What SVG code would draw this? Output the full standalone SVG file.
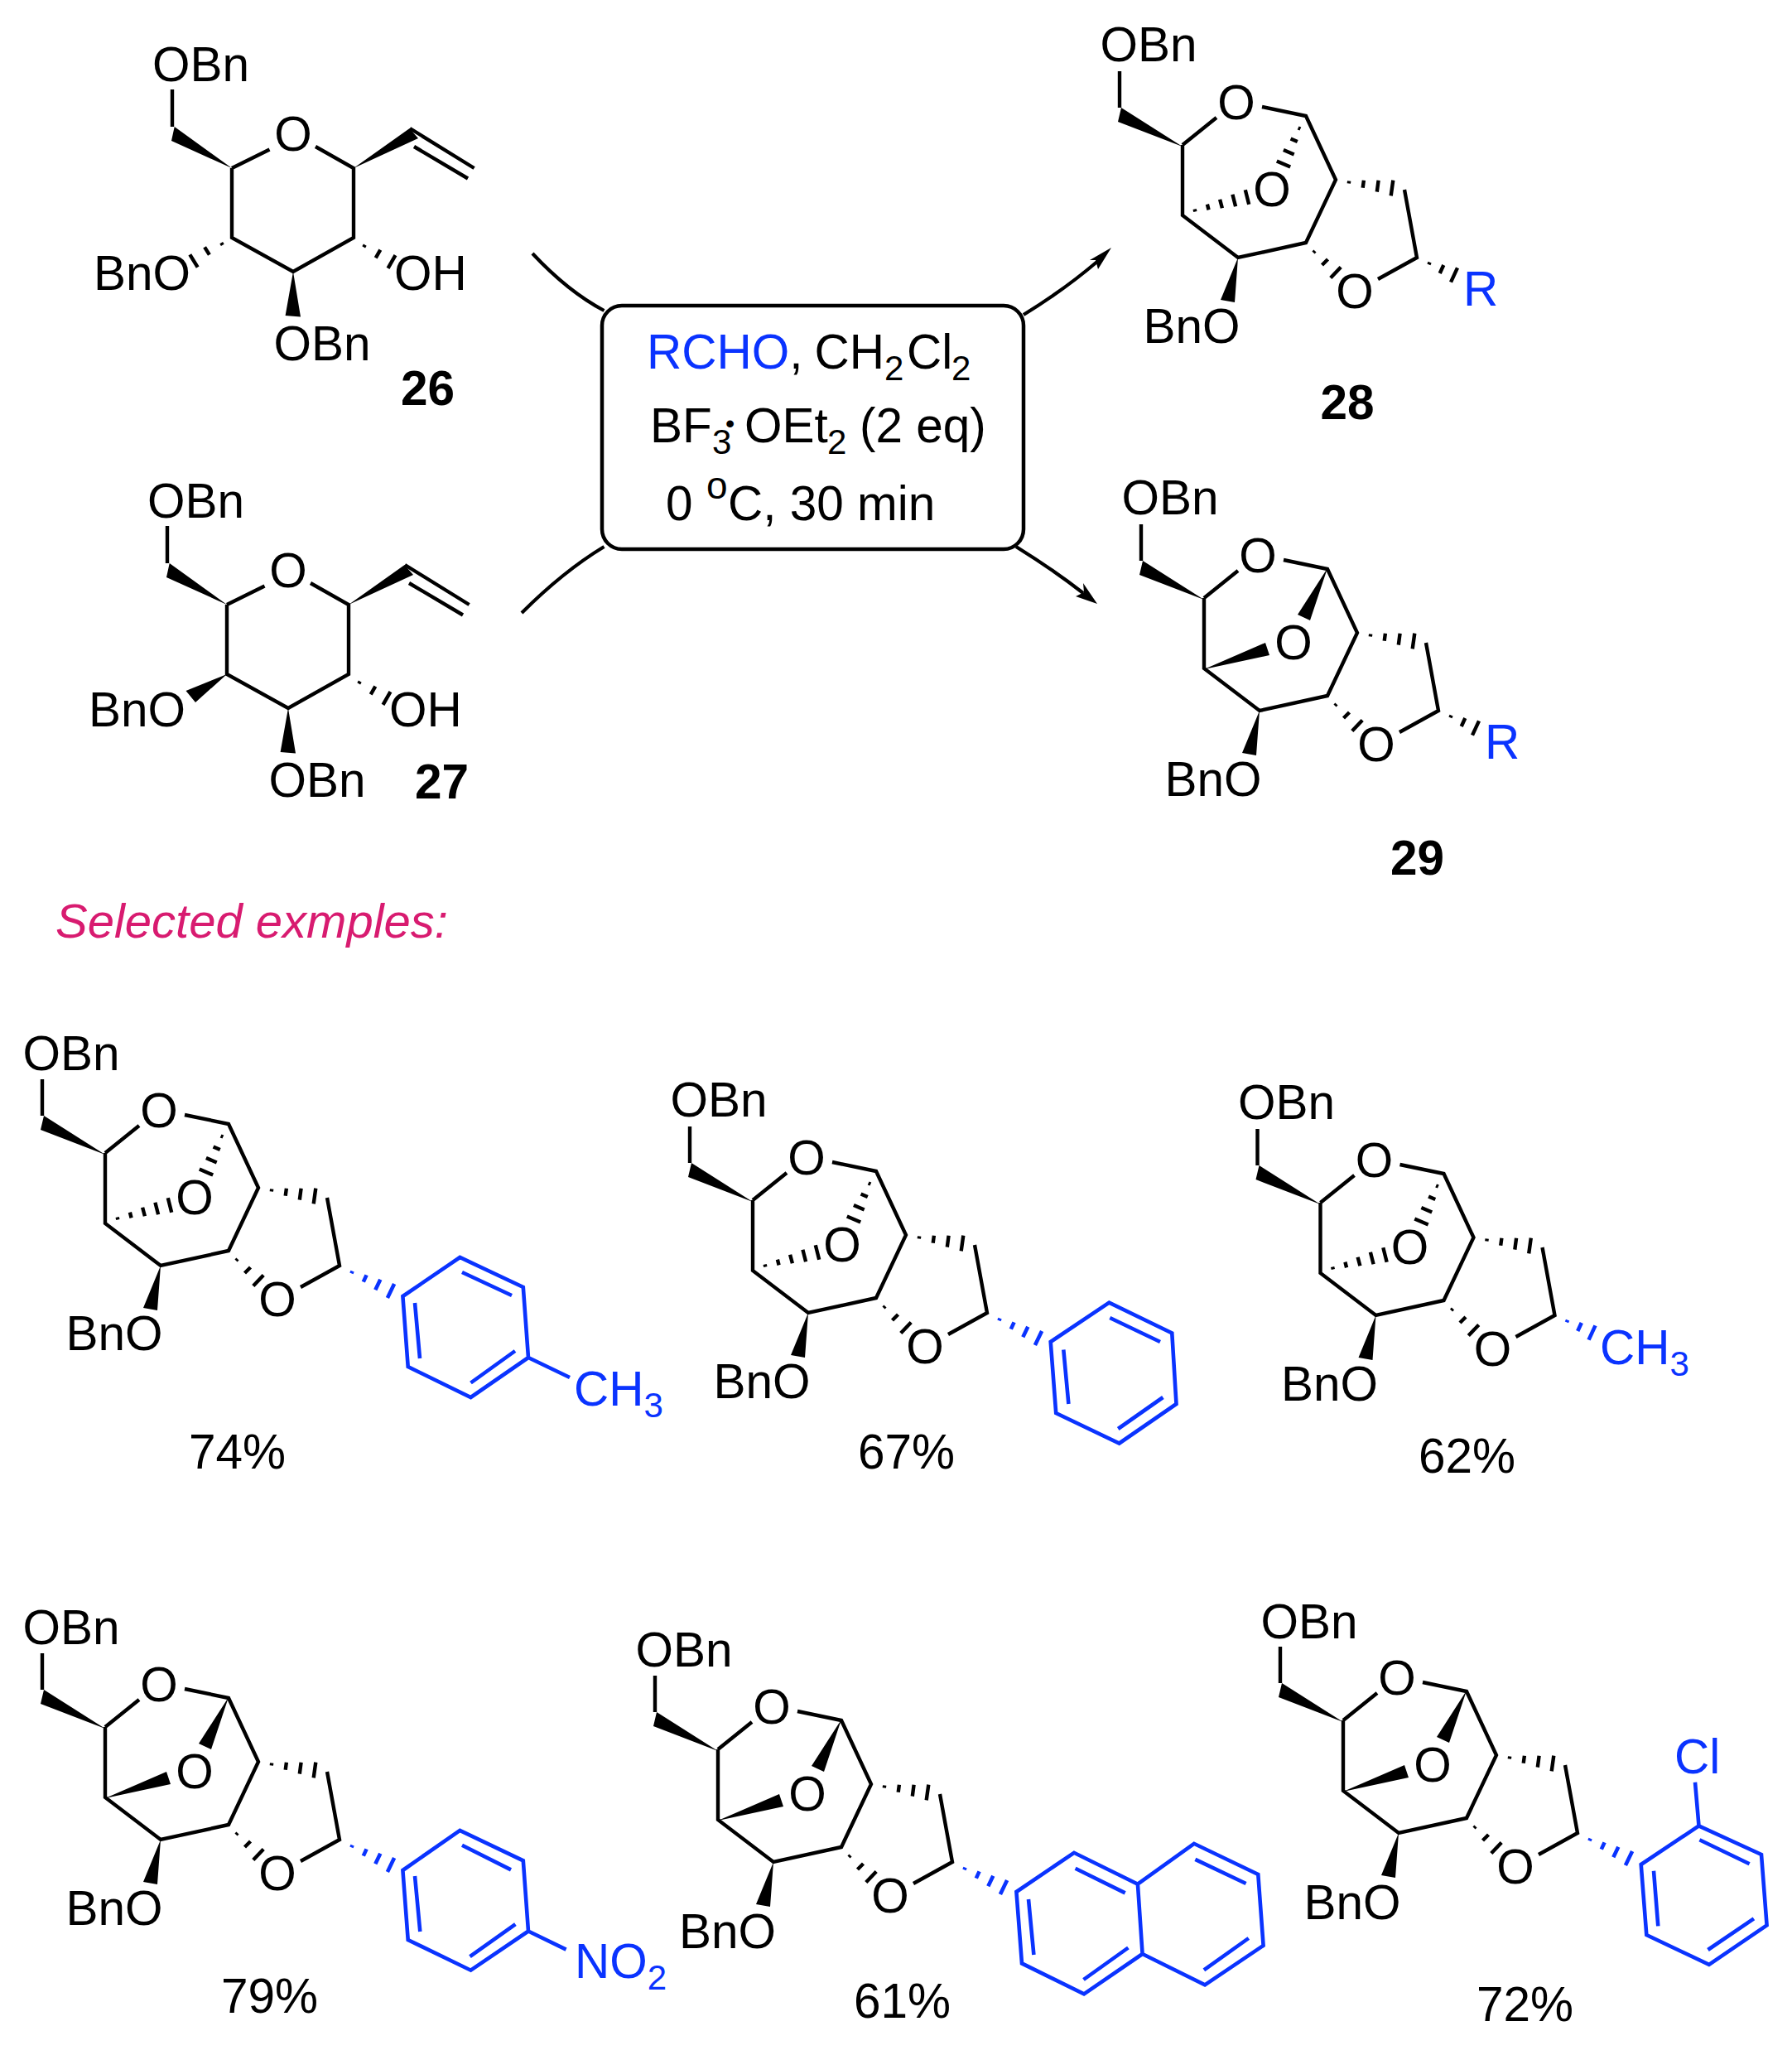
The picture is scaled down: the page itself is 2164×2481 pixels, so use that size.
<svg xmlns="http://www.w3.org/2000/svg" xmlns:xlink="http://www.w3.org/1999/xlink" width="2164" height="2481" viewBox="0 0 2164 2481">
<style>
text{font-family:"Liberation Sans",Arial,sans-serif;font-size:58.5px;fill:#000}
.m{text-anchor:middle}
.b{font-weight:bold}
.sub{font-size:42px}
.blue{fill:#0a33ff}
.pink{fill:#d81b70;font-style:italic;font-size:58px}
.k{fill:none;stroke:#000;stroke-width:4.4}
.h{fill:none;stroke:#000;stroke-width:4.4}
.hb{fill:none;stroke:#0a33ff;stroke-width:4.6}
.ar{fill:none;stroke:#0a33ff;stroke-width:4.6}
.w{fill:#000;stroke:none}
.box{fill:#fff;stroke:#000;stroke-width:4.5}
.conn{fill:none;stroke:#000;stroke-width:4.2}
</style>
<defs>
<g id="core">
<path class="k" d="M-76,-45V-89M0,0L41,-33M96,-46L149,-35L185,42L149,118L67,136L0,85V0M268,54L283,136L236,162"/>
<path class="w" d="M0,2L-74,-45L-78,-28ZM67,136L46,187L63,190Z"/>
<path class="h" d="M201.2,43.5L200.8,46.5M218.9,42.8L217.7,51.8M236.6,42.8L234.8,56.6M254.3,42.6L251.7,61.4M158,130L160,128M168.5,145L175.5,138M178.8,160.5L191.2,147.5"/>
</g>
<path id="bridge-hash" class="h" d="M139.6,-20.6L142.4,-19.4M130.6,-7.5L138.8,-3.9M121.9,5.9L134.7,11.5M113.8,19.4L130.2,26.6M14.6,77.5L15.4,80.5M29.9,71.6L31.6,78.4M45.1,65.7L47.9,76.3M60.4,59.7L64.1,74.3M75.8,54.3L80.2,71.7"/>
<path id="bridge-wedge" class="w" d="M149,-36L113,20L128,27ZM0,86L74,54L79,69Z"/>
<path id="hash3" d="M297.4,144.4L298.6,141.6M310.7,155L315.3,145M324,165.6L332,148.4"/>
<path id="hash4" d="M297.4,145.4L298.6,142.6M311.8,155.6L315.6,147.4M326.3,165.3L332.3,152.7M340.9,175.1L349.1,157.9"/>
<g id="pyran">
<path class="k" d="M-72,-95V-50M0,0L45.5,-22.5M101,-26L147,0V84L74,125L0,84V0M215,-48L292.6,0M220,-26L285,12.5"/>
<path class="w" d="M0,0L-69.3,-50L-73,-33ZM147,0L214.6,-48L225,-36ZM74,125L64.6,178L83,179.6Z"/>
<path class="h" d="M159.2,95.3L160.8,92.7M173.7,108.3L179.3,98.7M188.5,120.8L197.5,105.2"/>
</g>
</defs>

<g id="connectors">
<path class="conn" d="M643,306Q686,352 729.5,375"/>
<path class="conn" d="M630,740Q680,690 729.5,660"/>
<path class="conn" d="M1236,380Q1285,350 1326,315"/>
<path class="conn" d="M1227,660Q1272,688 1308,716"/>
<path class="w" d="M1342,299L1326,325L1323,314L1316,314Z"/>
<path class="w" d="M1325,729L1299,720L1309,715L1308,704Z"/>
</g>

<g id="conditions">
<rect class="box" x="727" y="369" width="509" height="294" rx="24"/>
<text x="781" y="444.5"><tspan class="blue">RCHO</tspan>, <tspan x="983.5">CH</tspan><tspan class="sub" x="1068" dy="14">2</tspan><tspan x="1095" dy="-14">Cl</tspan><tspan class="sub" x="1149" dy="14">2</tspan></text>
<text x="785" y="534">BF<tspan class="sub" x="860" dy="14">3</tspan><tspan style="font-size:32px" x="876" dy="-26">•</tspan><tspan x="899" dy="12">OEt</tspan><tspan class="sub" x="999" dy="14">2</tspan><tspan x="1038" dy="-14">(2 eq)</tspan></text>
<text x="804" y="628">0<tspan class="sub" style="font-size:46px" x="853" dy="-26">o</tspan><tspan x="879" dy="26">C, 30 min</tspan></text>
</g>

<g id="compound-26"><g transform="translate(280,203)">
<use href="#pyran"/>
<path class="h" d="M-12.8,90.2L-11.2,92.8M-32.9,95.3L-27.1,104.7M-50.7,104.3L-41.3,119.7"/>
<text x="-96" y="-105">OBn</text><text class="m" x="74" y="-21.5">O</text><text x="196" y="147">OH</text><text x="-167" y="147">BnO</text><text x="50.5" y="231.5">OBn</text>
</g><text class="b" x="484" y="489">26</text></g>

<g id="compound-27"><g transform="translate(274,730)">
<use href="#pyran"/>
<path class="w" d="M0,84L-49.5,104L-38,118Z"/>
<text x="-96" y="-105">OBn</text><text class="m" x="74" y="-21.5">O</text><text x="196" y="147">OH</text><text x="-167" y="147">BnO</text><text x="50.5" y="231.5">OBn</text>
</g><text class="b" x="501" y="964">27</text></g>

<g id="compound-28"><g transform="translate(1428,175)">
<use href="#core"/><use href="#bridge-hash"/><use class="h" href="#hash3"/>
<text x="-99.5" y="-101">OBn</text><text class="m" x="65" y="-31.5">O</text><text class="m" x="108" y="74">O</text><text class="m" x="208" y="197">O</text><text x="-47.5" y="239">BnO</text><text class="blue" x="339" y="193.5">R</text>
</g><text class="b" x="1594.5" y="506">28</text></g>

<g id="compound-29"><g transform="translate(1454,722)">
<use href="#core"/><use href="#bridge-wedge"/><use class="h" href="#hash3"/>
<text x="-99.5" y="-101">OBn</text><text class="m" x="65" y="-31.5">O</text><text class="m" x="108" y="74">O</text><text class="m" x="208" y="197">O</text><text x="-47.5" y="239">BnO</text><text class="blue" x="339" y="193.5">R</text>
</g><text class="b" x="1679" y="1056">29</text></g>

<text id="selected-examples" class="pink" x="67" y="1131.5">Selected exmples:</text>

<g id="example-74"><g transform="translate(127,1392)">
<use href="#core"/><use href="#bridge-hash"/><use class="hb" href="#hash4"/>
<text x="-99.5" y="-100">OBn</text><text class="m" x="65" y="-31.5">O</text><text class="m" x="108" y="74">O</text><text class="m" x="208" y="197">O</text><text x="-47.5" y="238">BnO</text>
</g>
<path class="ar" d="M486.4,1565L555.4,1518L631.8,1554L638,1639L568.5,1687L492.7,1650ZM501,1573L507,1640M558,1536L618,1564M622,1631L568.5,1669.5M638,1639L688,1663"/>
<text class="blue" x="693" y="1696.5">CH<tspan class="sub" dy="14">3</tspan></text>
<text x="228" y="1773">74%</text></g>

<g id="example-67"><g transform="translate(909,1449)">
<use href="#core"/><use href="#bridge-hash"/><use class="hb" href="#hash4"/>
<text x="-99.5" y="-101">OBn</text><text class="m" x="65" y="-31.5">O</text><text class="m" x="108" y="74">O</text><text class="m" x="208" y="197">O</text><text x="-47.5" y="239">BnO</text>
</g>
<path class="ar" d="M1268.7,1620L1339.4,1572.7L1415.3,1609.5L1420.5,1695L1351.6,1742.5L1275.2,1706ZM1284.3,1629.5L1290.4,1695M1340.3,1591L1401,1620M1404.4,1687L1350.2,1725"/>
<text x="1036" y="1773">67%</text></g>

<g id="example-62"><g transform="translate(1594.5,1452)">
<use href="#core"/><use href="#bridge-hash"/><use class="hb" href="#hash3"/>
<text x="-99.5" y="-101">OBn</text><text class="m" x="65" y="-31.5">O</text><text class="m" x="108" y="74">O</text><text class="m" x="208" y="197">O</text><text x="-47.5" y="239">BnO</text>
</g>
<text class="blue" x="1932" y="1646.7">CH<tspan class="sub" dy="14">3</tspan></text>
<text x="1713" y="1777.6">62%</text></g>

<g id="example-79"><g transform="translate(127,2085)">
<use href="#core"/><use href="#bridge-wedge"/><use class="hb" href="#hash4"/>
<text x="-99.5" y="-100.5">OBn</text><text class="m" x="65" y="-31.5">O</text><text class="m" x="108" y="74">O</text><text class="m" x="208" y="197">O</text><text x="-47.5" y="239">BnO</text>
</g>
<path class="ar" d="M486.4,2258L555.4,2209.8L631.8,2246.3L638,2331.5L568.5,2378.7L492.7,2342ZM501,2265L507.3,2332M558,2227.7L617,2257.4M622.4,2323L567.5,2362M638,2331.5L683.6,2353.6"/>
<text class="blue" x="694" y="2388">NO<tspan class="sub" dy="14">2</tspan></text>
<text x="267" y="2429.5">79%</text></g>

<g id="example-61"><g transform="translate(867,2112)">
<use href="#core"/><use href="#bridge-wedge"/><use class="hb" href="#hash4"/>
<text x="-99.5" y="-100">OBn</text><text class="m" x="65" y="-31.5">O</text><text class="m" x="108" y="74">O</text><text class="m" x="208" y="197">O</text><text x="-47" y="240">BnO</text>
</g>
<path class="ar" d="M1227.4,2284L1297,2236.8L1373.9,2274.7L1379.6,2359L1309,2407.3L1234,2370.4ZM1373.9,2274.7L1441.9,2225.8L1519.3,2263L1525.6,2348.8L1455,2396.3L1379.6,2359M1242,2293L1248.4,2360M1298.6,2255.8L1358.7,2285.4M1362.4,2351.5L1308.5,2390M1443.4,2244.8L1504.6,2274M1507.8,2340L1453.9,2378.4"/>
<text x="1031" y="2435.5">61%</text></g>

<g id="example-72"><g transform="translate(1622,2077)">
<use href="#core"/><use href="#bridge-wedge"/><use class="hb" href="#hash4"/>
<text x="-99.5" y="-99">OBn</text><text class="m" x="65" y="-31.5">O</text><text class="m" x="108" y="74">O</text><text class="m" x="208" y="197">O</text><text x="-47.5" y="239.5">BnO</text>
</g>
<path class="ar" d="M1981.7,2251L2051.5,2204.4L2127,2239L2133.6,2324.3L2063.8,2371.9L1988.3,2336ZM1997,2258.8L2002.3,2325.4M2052.4,2221.2L2112.6,2250.2M2117.9,2316.4L2062.5,2354M2051.5,2204.4L2047,2151.8"/>
<text class="blue" x="2022" y="2141">Cl</text>
<text x="1783" y="2439.5">72%</text></g>
</svg>
